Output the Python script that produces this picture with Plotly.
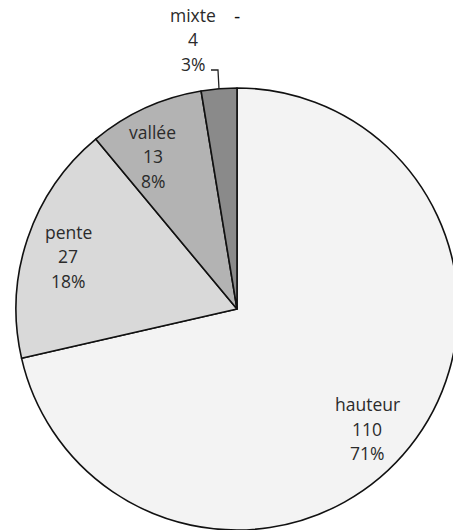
import math
import plotly.graph_objects as go

# Relief classes and their counts
categories = ["hauteur", "pente", "vallée", "mixte"]
counts = [110, 27, 13, 4]
percent_labels = ["71%", "18%", "8%", "3%"]
slice_colors = ["#f3f3f3", "#d9d9d9", "#b3b3b3", "#8a8a8a"]

# Figure geometry (pixels)
W, H = 470, 530
ML, MR, MT, MB = 16, 12, 88, 0
PW, PH = W - ML - MR, H - MT - MB
CX, CY = ML + PW / 2, MT + PH / 2
R = min(PW, PH) / 2

FONT = dict(family="Open Sans, DejaVu Sans, sans-serif", size=17.5, color="#2b2b2b")
LINE = 24.5
# best-fit nudges of the inside labels: (angle offset in degrees, radius fraction)
LABEL_FIT = {"hauteur": (4.0, 0.80), "pente": (-1.3, 0.80), "vallée": (-4.3, 0.79)}


def to_paper(px, py):
    return (px - ML) / PW, (H - MB - py) / PH


def text_ann(text, px, py, font=FONT):
    x, y = to_paper(px, py)
    return dict(x=x, y=y, xref="paper", yref="paper", text=text, showarrow=False,
                font=font, xanchor="center", yanchor="middle")


fig = go.Figure(
    go.Pie(
        labels=categories,
        values=counts,
        sort=False,
        direction="clockwise",
        rotation=0,
        marker=dict(colors=slice_colors, line=dict(color="#111111", width=1.6)),
        textinfo="none",
        hoverinfo="label+value+percent",
        showlegend=False,
    )
)

total = sum(counts)
annotations = []
shapes = []
start = 0.0
for name, val, pct in zip(categories, counts, percent_labels):
    sweep = val / total * 360.0
    mid_deg = start + sweep / 2
    start += sweep
    if name in LABEL_FIT:
        dang, frac = LABEL_FIT[name]
        a = math.radians(mid_deg + dang)
        lx = CX + frac * R * math.sin(a)
        ly = CY - frac * R * math.cos(a)
        for text, dy in ((name, -LINE), (str(val), 0), (pct, LINE)):
            annotations.append(text_ann(text, lx, ly + dy))
    else:
        # small slice: label outside with an elbow leader line
        a = math.radians(mid_deg)
        ex = CX + R * math.sin(a)
        ey = CY - R * math.cos(a)
        elbow_y = 70
        pts = [to_paper(x, y) for x, y in ((ex, ey), (ex - 1, elbow_y), (ex - 8, elbow_y))]
        path = "M {} {} L {} {} L {} {}".format(*[c for p in pts for c in p])
        shapes.append(dict(type="path", path=path, xref="paper", yref="paper",
                           line=dict(color="#222222", width=1.3)))
        lx = ex - 26
        for text, py_pix in ((name, 15), (str(val), 39.5), (pct, 64)):
            annotations.append(text_ann(text, lx, py_pix))
        annotations.append(text_ann("-", ex + 18, 16,
                                    dict(FONT, color="#111111", family="DejaVu Sans, sans-serif")))

fig.update_layout(
    width=W,
    height=H,
    margin=dict(l=ML, r=MR, t=MT, b=MB),
    paper_bgcolor="white",
    plot_bgcolor="white",
    annotations=annotations,
    shapes=shapes,
)

fig.write_html(
    "out.html",
    post_script="document.body.style.margin='0';document.body.style.overflow='hidden';",
)
